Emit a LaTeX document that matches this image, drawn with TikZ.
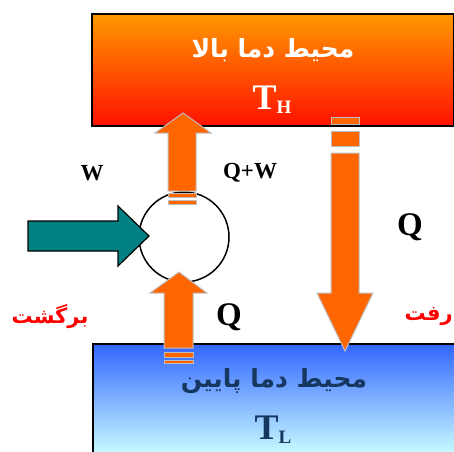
\documentclass[tikz,border=0pt]{standalone}
\usepackage{fontspec}
\setmainfont{Liberation Serif}
\newfontfamily\arabicfont[Script=Arabic]{DejaVu Sans}
\TeXXeTstate=1
\definecolor{hotA}{RGB}{255,153,0}
\definecolor{hotB}{RGB}{255,17,0}
\definecolor{coldA}{RGB}{51,102,255}
\definecolor{coldB}{RGB}{204,255,255}
\definecolor{flow}{RGB}{255,102,0}
\definecolor{flowedge}{RGB}{190,190,190}
\definecolor{work}{RGB}{0,128,128}
\definecolor{navy}{RGB}{22,55,95}
\tikzset{
  flowshape/.style={fill=flow,draw=flowedge,line width=1pt},
  lbl/.style={font=\bfseries\fontsize{23}{26}\selectfont,inner sep=0pt},
  biglbl/.style={font=\bfseries\fontsize{33}{36}\selectfont,inner sep=0pt},
  redlbl/.style={text=red,font=\arabicfont\bfseries\fontsize{21}{24}\selectfont,inner sep=0pt},
}
\begin{document}
\begin{tikzpicture}[x=1pt,y=-1pt]
\useasboundingbox (0,0) rectangle (454,451);
% reservoirs
\node[draw=black,line width=2pt,top color=hotA,bottom color=hotB,minimum width=362pt,minimum height=112pt,anchor=north west,inner sep=0pt] (hot) at (91,13) {};
\node[draw=black,line width=2pt,top color=coldA,bottom color=coldB,minimum width=366pt,minimum height=112pt,anchor=north west,inner sep=0pt] (cold) at (92,343) {};
\node[text=white,font=\arabicfont\bfseries\fontsize{25}{28}\selectfont,inner sep=0pt] (hottxt) at (273,50) {\beginR محیط دما بالا\endR};
\node[text=white,font=\bfseries\fontsize{36}{40}\selectfont,inner sep=0pt] (hotT) at (272,100) {T\raisebox{-4pt}{\fontsize{19}{20}\selectfont H}};
\node[text=navy,font=\arabicfont\bfseries\fontsize{25}{28}\selectfont,inner sep=0pt] (coldtxt) at (274,381) {\beginR محیط دما پایین\endR};
\node[text=navy,font=\bfseries\fontsize{36}{40}\selectfont,inner sep=0pt] (coldT) at (273,430) {T\raisebox{-4pt}{\fontsize{19}{20}\selectfont L}};
% machine
\node[draw=black,line width=1.5pt,circle,minimum size=90pt,inner sep=0pt] (cyc) at (184,237) {};
% upper up arrow (Q+W)
\draw[flowshape] (168,191) -- (168,133) -- (155,133) -- (183,113) -- (211,133) -- (196,133) -- (196,191) -- cycle;
\draw[flowshape] (168,193) rectangle (196,197);
\draw[flowshape] (168,200) rectangle (196,204);
% lower up arrow (Q)
\draw[flowshape] (164,348) -- (164,293) -- (150,293) -- (179,272) -- (207,293) -- (193,293) -- (193,348) -- cycle;
\draw[flowshape] (164,352) rectangle (193,357);
\draw[flowshape] (164,360) rectangle (193,363);
% down arrow (Q)
\draw[flowshape] (331,117) rectangle (359,124);
\draw[flowshape] (331,131) rectangle (359,146);
\draw[flowshape] (331,153) -- (331,293) -- (317,293) -- (345,351) -- (373,293) -- (359,293) -- (359,153) -- cycle;
% work arrow
\draw[fill=work,draw=black,line width=1.2pt] (28,221) -- (118,221) -- (118,206) -- (149,236) -- (118,266) -- (118,251) -- (28,251) -- cycle;
\coordinate (wtip) at (149,236);
% labels
\node[lbl] (lW) at (92,173) {W};
\node[lbl] (lQW) at (250,173) {Q+W};
\node[biglbl] (lQr) at (410,227) {Q};
\node[biglbl] (lQl) at (229,317) {Q};
\node[redlbl] (back) at (50,316) {\beginR برگشت\endR};
\node[redlbl,anchor=east] (go) at (453,316) {\beginR رفت\endR};
\end{tikzpicture}
\end{document}
